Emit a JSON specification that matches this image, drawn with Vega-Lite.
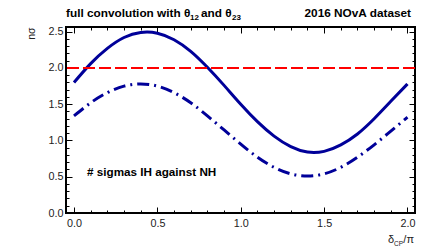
{
  "$schema": "https://vega.github.io/schema/vega-lite/v6.json",
  "width": 349,
  "height": 186,
  "autosize": {"type": "none"},
  "padding": {"left": 66, "top": 27, "right": 21, "bottom": 38},
  "background": "white",
  "config": {
    "view": {"stroke": "black", "strokeWidth": 2},
    "font": "Liberation Sans",
    "axis": {"grid": false, "domain": false, "tickColor": "black", "tickWidth": 1, "labelFont": "Liberation Sans", "labelFontSize": 10.8, "labelColor": "#222", "titleFont": "Liberation Sans"}
  },
  "datasets": {
    "nh": [
      {"d": 0.0, "n": 1.80}, {"d": 0.1, "n": 2.06}, {"d": 0.2, "n": 2.27}, {"d": 0.3, "n": 2.42},
      {"d": 0.4, "n": 2.49}, {"d": 0.5, "n": 2.48}, {"d": 0.6, "n": 2.39}, {"d": 0.7, "n": 2.23},
      {"d": 0.8, "n": 2.01}, {"d": 0.9, "n": 1.76}, {"d": 1.0, "n": 1.50}, {"d": 1.1, "n": 1.26},
      {"d": 1.2, "n": 1.06}, {"d": 1.3, "n": 0.915}, {"d": 1.4, "n": 0.84}, {"d": 1.5, "n": 0.85},
      {"d": 1.6, "n": 0.94}, {"d": 1.7, "n": 1.09}, {"d": 1.8, "n": 1.30}, {"d": 1.9, "n": 1.54},
      {"d": 2.0, "n": 1.78}
    ],
    "ih": [
      {"d": 0.0, "n": 1.34}, {"d": 0.1, "n": 1.52}, {"d": 0.2, "n": 1.66}, {"d": 0.3, "n": 1.75},
      {"d": 0.4, "n": 1.78}, {"d": 0.5, "n": 1.75}, {"d": 0.6, "n": 1.66}, {"d": 0.7, "n": 1.52},
      {"d": 0.8, "n": 1.34}, {"d": 0.9, "n": 1.145}, {"d": 1.0, "n": 0.95}, {"d": 1.1, "n": 0.77},
      {"d": 1.2, "n": 0.63}, {"d": 1.3, "n": 0.54}, {"d": 1.4, "n": 0.51}, {"d": 1.5, "n": 0.54},
      {"d": 1.6, "n": 0.63}, {"d": 1.7, "n": 0.77}, {"d": 1.8, "n": 0.94}, {"d": 1.9, "n": 1.13},
      {"d": 2.0, "n": 1.32}
    ],
    "thr": [{"n": 2.0}],
    "texts": [
      {"d": -0.048, "n": 2.565, "label": "full convolution with θ", "part": "t1"},
      {"d": -0.048, "n": 2.565, "label": "12", "part": "t2"},
      {"d": -0.048, "n": 2.565, "label": "and θ", "part": "t3"},
      {"d": -0.048, "n": 2.565, "label": "23", "part": "t4"},
      {"d": 2.045, "n": 2.565, "label": "2016 NOvA dataset", "part": "r"},
      {"d": 0.078, "n": 0.51, "label": "# sigmas IH against NH", "part": "leg"},
      {"d": 2.045, "n": 0.0, "label": "δ", "part": "x1"},
      {"d": 2.045, "n": 0.0, "label": "CP", "part": "x2"},
      {"d": 2.045, "n": 0.0, "label": "/π", "part": "x3"}
    ]
  },
  "layer": [
    {
      "data": {"name": "nh"},
      "mark": {"type": "line", "color": "#000099", "strokeWidth": 3, "interpolate": "natural"},
      "encoding": {
        "x": {"field": "d", "type": "quantitative", "scale": {"domain": [-0.048, 2.045], "nice": false, "zero": false},
          "axis": {"orient": "bottom", "title": null,
            "values": [0,0.1,0.2,0.3,0.4,0.5,0.6,0.7,0.8,0.9,1,1.1,1.2,1.3,1.4,1.5,1.6,1.7,1.8,1.9,2],
            "tickSize": {"expr": "abs(round(datum.value*10)%5)==0 ? -6 : -3"},
            "labelPadding": 10, "labelOverlap": false,
            "labelExpr": "abs(round(datum.value*10)%5)==0 ? format(datum.value, '.1f') : ''"}},
        "y": {"field": "n", "type": "quantitative", "scale": {"domain": [0, 2.565], "nice": false, "zero": false},
          "axis": {"orient": "left", "title": "nσ", "titleFontSize": 10.5, "titleFontWeight": "normal", "titleColor": "#222",
            "titleAngle": -90, "titleAlign": "right", "titleBaseline": "middle", "titleX": -35, "titleY": 0,
            "values": [0,0.1,0.2,0.3,0.4,0.5,0.6,0.7,0.8,0.9,1,1.1,1.2,1.3,1.4,1.5,1.6,1.7,1.8,1.9,2,2.1,2.2,2.3,2.4,2.5],
            "tickSize": {"expr": "abs(round(datum.value*10)%5)==0 ? -6 : -3"},
            "labelPadding": 9, "labelOverlap": false,
            "labelExpr": "abs(round(datum.value*10)%5)==0 ? format(datum.value, '.1f') : ''"}}
      }
    },
    {
      "data": {"name": "ih"},
      "mark": {"type": "line", "color": "#000099", "strokeWidth": 3, "strokeDash": [12, 5, 2, 5], "interpolate": "natural"},
      "encoding": {
        "x": {"field": "d", "type": "quantitative", "scale": {"domain": [-0.048, 2.045], "nice": false, "zero": false},
          "axis": {"orient": "top", "title": null, "labels": false,
            "values": [0,0.1,0.2,0.3,0.4,0.5,0.6,0.7,0.8,0.9,1,1.1,1.2,1.3,1.4,1.5,1.6,1.7,1.8,1.9,2],
            "tickSize": {"expr": "abs(round(datum.value*10)%5)==0 ? -6 : -3"}}},
        "y": {"field": "n", "type": "quantitative", "scale": {"domain": [0, 2.565], "nice": false, "zero": false},
          "axis": {"orient": "right", "title": null, "labels": false,
            "values": [0,0.1,0.2,0.3,0.4,0.5,0.6,0.7,0.8,0.9,1,1.1,1.2,1.3,1.4,1.5,1.6,1.7,1.8,1.9,2,2.1,2.2,2.3,2.4,2.5],
            "tickSize": {"expr": "abs(round(datum.value*10)%5)==0 ? -6 : -3"}}}
      }
    },
    {
      "data": {"name": "thr"},
      "mark": {"type": "rule", "color": "#ff0000", "strokeWidth": 2, "strokeDash": [12, 4]},
      "encoding": {
        "y": {"field": "n", "type": "quantitative", "axis": null}
      }
    },
    {
      "data": {"name": "texts"},
      "transform": [{"filter": "datum.part == 't1'"}],
      "mark": {"type": "text", "align": "left", "baseline": "alphabetic", "dy": -10, "fontSize": 11.8, "fontWeight": "bold", "color": "black"},
      "encoding": {
        "x": {"field": "d", "type": "quantitative", "axis": null},
        "y": {"field": "n", "type": "quantitative", "axis": null},
        "text": {"field": "label"}
      }
    },
    {
      "data": {"name": "texts"},
      "transform": [{"filter": "datum.part == 't2'"}],
      "mark": {"type": "text", "align": "left", "baseline": "alphabetic", "dy": -7, "dx": 124, "fontSize": 8, "fontWeight": "bold", "color": "black"},
      "encoding": {
        "x": {"field": "d", "type": "quantitative", "axis": null},
        "y": {"field": "n", "type": "quantitative", "axis": null},
        "text": {"field": "label"}
      }
    },
    {
      "data": {"name": "texts"},
      "transform": [{"filter": "datum.part == 't3'"}],
      "mark": {"type": "text", "align": "left", "baseline": "alphabetic", "dy": -10, "dx": 135, "fontSize": 11.8, "fontWeight": "bold", "color": "black"},
      "encoding": {
        "x": {"field": "d", "type": "quantitative", "axis": null},
        "y": {"field": "n", "type": "quantitative", "axis": null},
        "text": {"field": "label"}
      }
    },
    {
      "data": {"name": "texts"},
      "transform": [{"filter": "datum.part == 't4'"}],
      "mark": {"type": "text", "align": "left", "baseline": "alphabetic", "dy": -7, "dx": 166, "fontSize": 8, "fontWeight": "bold", "color": "black"},
      "encoding": {
        "x": {"field": "d", "type": "quantitative", "axis": null},
        "y": {"field": "n", "type": "quantitative", "axis": null},
        "text": {"field": "label"}
      }
    },
    {
      "data": {"name": "texts"},
      "transform": [{"filter": "datum.part == 'r'"}],
      "mark": {"type": "text", "align": "right", "baseline": "alphabetic", "dy": -10, "dx": -4, "fontSize": 11.8, "fontWeight": "bold", "color": "black"},
      "encoding": {
        "x": {"field": "d", "type": "quantitative", "axis": null},
        "y": {"field": "n", "type": "quantitative", "axis": null},
        "text": {"field": "label"}
      }
    },
    {
      "data": {"name": "texts"},
      "transform": [{"filter": "datum.part == 'leg'"}],
      "mark": {"type": "text", "align": "left", "baseline": "alphabetic", "fontSize": 11.7, "fontWeight": "bold", "color": "black"},
      "encoding": {
        "x": {"field": "d", "type": "quantitative", "axis": null},
        "y": {"field": "n", "type": "quantitative", "axis": null},
        "text": {"field": "label"}
      }
    },
    {
      "data": {"name": "texts"},
      "transform": [{"filter": "datum.part == 'x1'"}],
      "mark": {"type": "text", "align": "right", "baseline": "alphabetic", "dy": 30, "dx": -21, "fontSize": 11, "color": "#222"},
      "encoding": {
        "x": {"field": "d", "type": "quantitative", "axis": null},
        "y": {"field": "n", "type": "quantitative", "axis": null},
        "text": {"field": "label"}
      }
    },
    {
      "data": {"name": "texts"},
      "transform": [{"filter": "datum.part == 'x2'"}],
      "mark": {"type": "text", "align": "right", "baseline": "alphabetic", "dy": 33, "dx": -12, "fontSize": 6.5, "color": "#222"},
      "encoding": {
        "x": {"field": "d", "type": "quantitative", "axis": null},
        "y": {"field": "n", "type": "quantitative", "axis": null},
        "text": {"field": "label"}
      }
    },
    {
      "data": {"name": "texts"},
      "transform": [{"filter": "datum.part == 'x3'"}],
      "mark": {"type": "text", "align": "right", "baseline": "alphabetic", "dy": 30, "dx": -1, "fontSize": 11, "color": "#222"},
      "encoding": {
        "x": {"field": "d", "type": "quantitative", "axis": null},
        "y": {"field": "n", "type": "quantitative", "axis": null},
        "text": {"field": "label"}
      }
    }
  ],
  "resolve": {"axis": {"x": "independent", "y": "independent"}}
}
